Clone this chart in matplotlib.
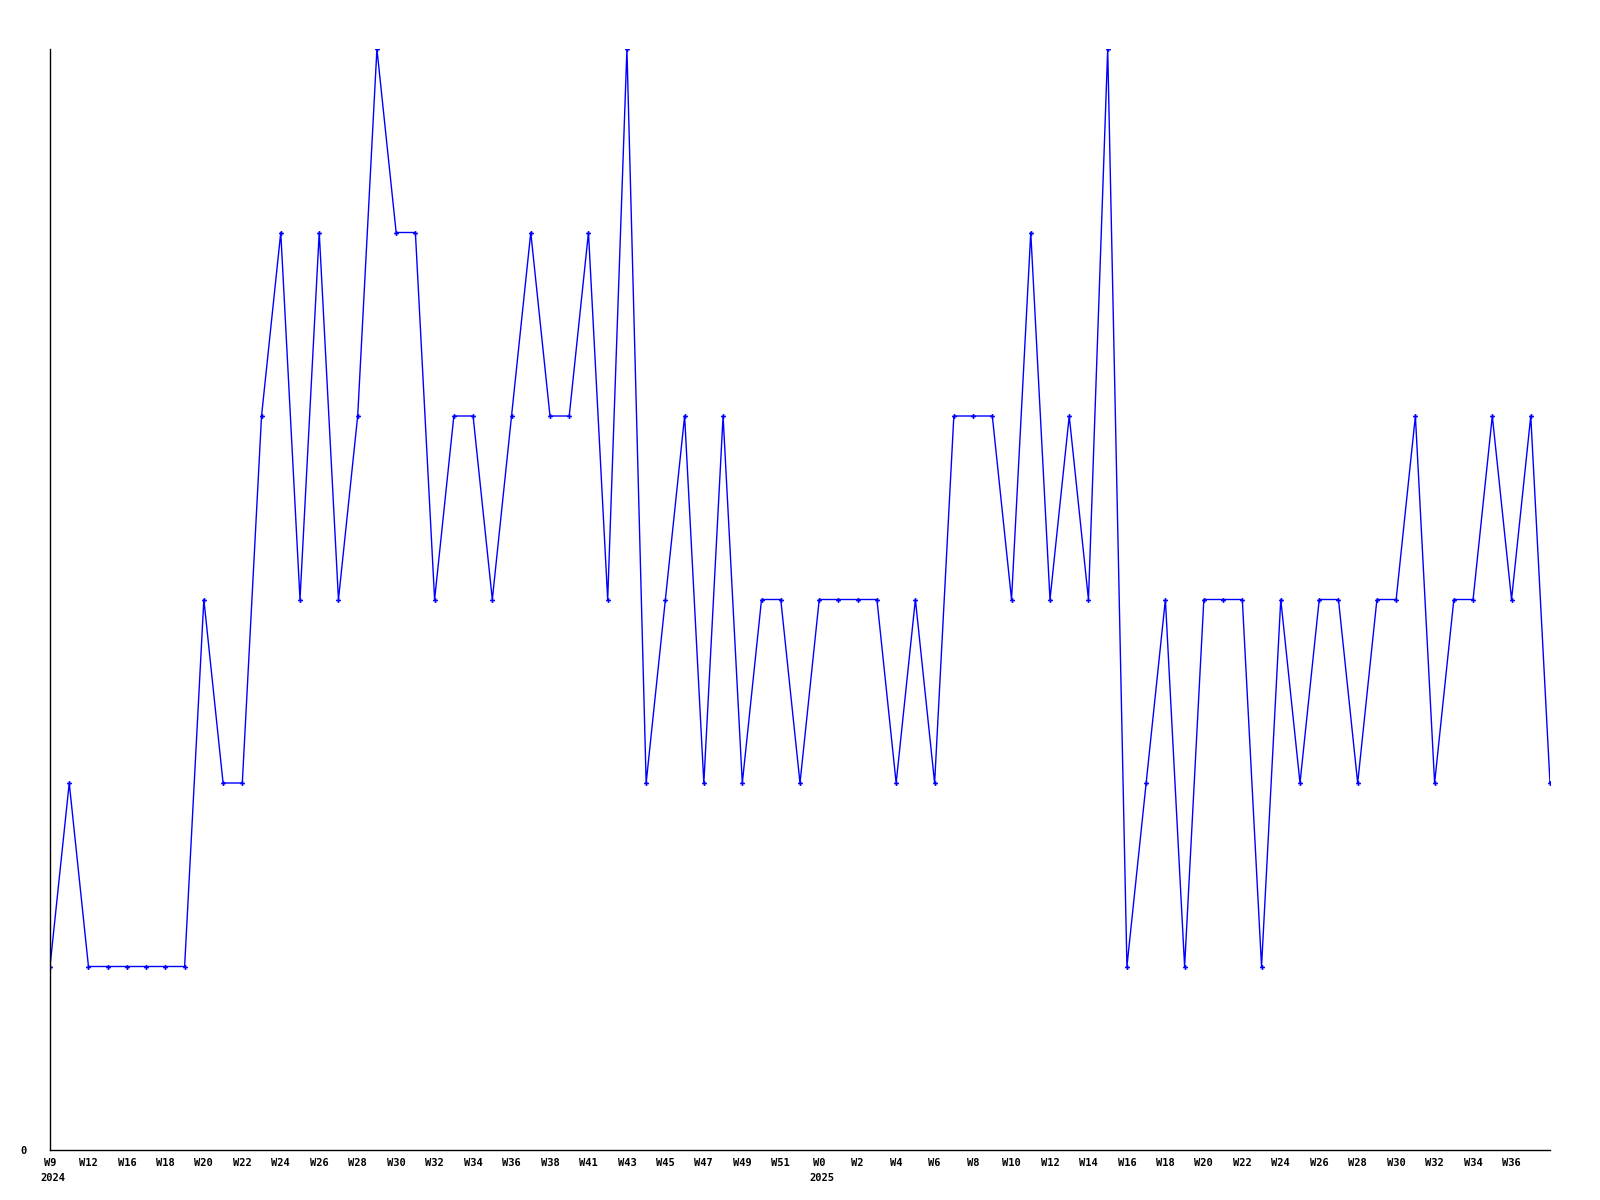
import matplotlib
matplotlib.use("Agg")
import matplotlib.pyplot as plt
from matplotlib.transforms import blended_transform_factory

values = [1, 2, 1, 1, 1, 1, 1, 1, 3, 2, 2, 4, 5, 3, 5, 3, 4, 6, 5, 5,
          3, 4, 4, 3, 4, 5, 4, 4, 5, 3, 6, 2, 3, 4, 2, 4, 2, 3, 3, 2,
          3, 3, 3, 3, 2, 3, 2, 4, 4, 4, 3, 5, 3, 4, 3, 6, 1, 2, 3, 1,
          3, 3, 3, 1, 3, 2, 3, 3, 2, 3, 3, 4, 2, 3, 3, 4, 3, 4, 2]

tick_labels = ["W9", "W12", "W16", "W18", "W20", "W22", "W24", "W26", "W28", "W30",
               "W32", "W34", "W36", "W38", "W41", "W43", "W45", "W47", "W49", "W51",
               "W0", "W2", "W4", "W6", "W8", "W10", "W12", "W14", "W16", "W18",
               "W20", "W22", "W24", "W26", "W28", "W30", "W32", "W34", "W36"]
year_labels = ["2024", "2025"]
year_positions = [0, 40]

x = list(range(len(values)))
fig = plt.figure(figsize=(16, 12), dpi=100)
ax = fig.add_axes([50/1600, 50/1200, 1500/1600, 1101/1200])
ax.plot(x, values, color="#0000FF", linewidth=1.0, marker="P", markersize=3.5,
        markeredgewidth=0)
ax.set_xlim(0, len(values) - 1)
ax.set_ylim(0, 6)
for s in ["top", "right"]:
    ax.spines[s].set_visible(False)
for s in ["left", "bottom"]:
    ax.spines[s].set_linewidth(1.0)
    ax.spines[s].set_color("black")

font = dict(family="DejaVu Sans Mono", weight="bold", size=7.5)
ax.set_xticks(range(0, 2 * len(tick_labels), 2))
ax.set_xticklabels(tick_labels, **font)
ax.set_yticks([0])
ax.set_yticklabels(["0"], **font)
ax.tick_params(axis="x", length=0, pad=5.5)
ax.tick_params(axis="y", length=0, pad=17)

trans = blended_transform_factory(ax.transData, ax.transAxes)
for pos, lab in zip(year_positions, year_labels):
    ax.annotate(lab, xy=(pos, 0), xycoords=trans, xytext=(-7.2, -16.5),
                textcoords="offset points", ha="left", va="top", **font)

fig.savefig("out.png", dpi=100, facecolor="white")
